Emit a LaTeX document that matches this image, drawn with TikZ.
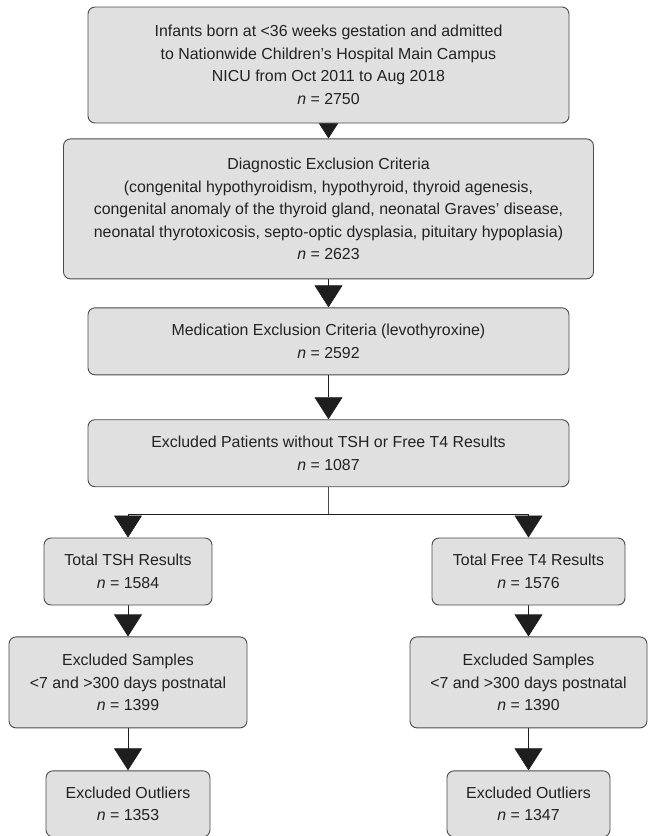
\documentclass[tikz,border=0pt]{standalone}
\usepackage{fontspec}
\setmainfont{Liberation Sans}
\usepackage{tikz}
\usetikzlibrary{arrows.meta,positioning,backgrounds}
\definecolor{FlowFill}{HTML}{E0E0E0}
\definecolor{FlowLine}{HTML}{4A4A4A}
\definecolor{FlowArrow}{HTML}{1E1E1E}
\definecolor{FlowText}{HTML}{222222}
\tikzset{
  box/.style={rounded corners=7pt, draw=FlowLine, fill=FlowFill, line width=0.9pt,
              align=center, inner sep=2pt, text=FlowText},
  link/.style={-{Triangle[length=22pt,width=28pt]}, draw=FlowArrow, line width=0.7pt},
  trunk/.style={draw=FlowLine, line width=0.7pt},
}

\begin{document}
\begin{tikzpicture}[x=1pt,y=1pt,node distance=15pt,font=\fontsize{15.9}{22.5}\selectfont]
    \useasboundingbox (0,0) rectangle (648,-836);
    \node[box,minimum width=481pt,minimum height=116pt] (infants) at (328.5,-65)
      {Infants born at <36 weeks gestation and admitted\\to Nationwide Children’s Hospital Main Campus\\NICU from Oct 2011 to Aug 2018\\\textit{n} = 2750};
    \node[box,minimum width=530pt,minimum height=140pt,below=15pt of infants] (diagnostic)
      {Diagnostic Exclusion Criteria\\(congenital hypothyroidism, hypothyroid, thyroid agenesis,\\congenital anomaly of the thyroid gland, neonatal Graves’ disease,\\neonatal thyrotoxicosis, septo-optic dysplasia, pituitary hypoplasia)\\\textit{n} = 2623};
    \node[box,minimum width=481pt,minimum height=67pt,below=28pt of diagnostic] (medication)
      {Medication Exclusion Criteria (levothyroxine)\\\textit{n} = 2592};
    \node[box,minimum width=481pt,minimum height=67pt,below=44pt of medication] (missing)
      {Excluded Patients without TSH or Free T4 Results\\\textit{n} = 1087};
    \coordinate[below=27pt of missing] (split);
    \node[box,minimum width=168pt,minimum height=67pt] (tsh) at (128,-571.5)
      {Total TSH Results\\\textit{n} = 1584};
    \node[box,minimum width=193pt,minimum height=67pt] (freet) at (528.5,-571.5)
      {Total Free T4 Results\\\textit{n} = 1576};
    \node[box,minimum width=238pt,minimum height=91pt,below=31pt of tsh] (tshsamples)
      {Excluded Samples\\<7 and >300 days postnatal\\\textit{n} = 1399};
    \node[box,minimum width=237pt,minimum height=91pt,below=31pt of freet] (freetsamples)
      {Excluded Samples\\<7 and >300 days postnatal\\\textit{n} = 1390};
    \node[box,minimum width=164pt,minimum height=66pt,below=42pt of tshsamples] (tshoutliers)
      {Excluded Outliers\\\textit{n} = 1353};
    \node[box,minimum width=163pt,minimum height=66pt,below=42pt of freetsamples] (freetoutliers)
      {Excluded Outliers\\\textit{n} = 1347};
    \begin{scope}[on background layer]
      \draw[link] (infants) -- (diagnostic);
      \draw[link] (diagnostic) -- (medication);
      \draw[link] (medication) -- (missing);
      \draw[trunk] (missing) -- (split);
      \draw[link] (split) -| (tsh);
      \draw[link] (split) -| (freet);
      \draw[link] (tsh) -- (tshsamples);
      \draw[link] (freet) -- (freetsamples);
      \draw[link] (tshsamples) -- (tshoutliers);
      \draw[link] (freetsamples) -- (freetoutliers);
    \end{scope}
  \end{tikzpicture}
\end{document}
